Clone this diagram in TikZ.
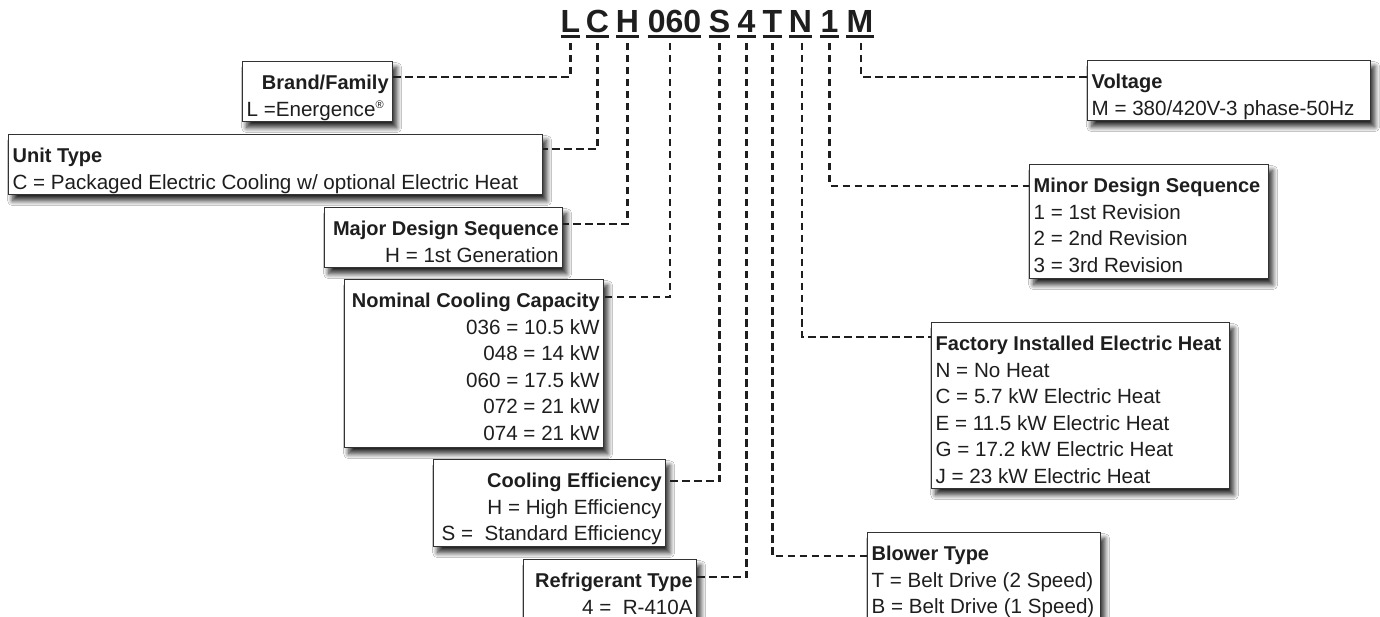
\documentclass[tikz,border=0pt]{standalone}
\usepackage{fontspec}
\setmainfont{Liberation Sans}
\usetikzlibrary{shadows.blur,calc}
\definecolor{ink}{HTML}{1E1E1E}
\definecolor{boxc}{HTML}{333333}
\newcommand\tfont{\fontsize{20}{26.5}\selectfont\bfseries}
\newcommand\bt[3]{\parbox[c][#2pt][t]{\dimexpr#1pt-8pt\relax}{\fontsize{20.6}{26.5}\selectfont\rule{0pt}{28pt}#3}}
\newcommand\rr[1]{\makebox[\linewidth][r]{#1}}
\newcommand\one[1]{\mbox{#1}}
\tikzset{
  box/.style={draw=boxc, line width=1.3pt, fill=white, inner xsep=4pt, inner ysep=0pt,
    anchor=north west, text=ink,
    blur shadow={shadow xshift=4pt, shadow yshift=-6pt, shadow blur radius=5pt, shadow blur steps=12, shadow opacity=85}},
  code/.style={inner sep=0pt, anchor=base, text=ink, font=\fontsize{32}{32}\selectfont\bfseries},
  uline/.style={draw=ink, line width=3pt},
  conn/.style={draw=ink, line width=2.2pt, dash pattern=on 7.5pt off 4.5pt}
}
\begin{document}
\begin{tikzpicture}[x=1pt,y=-1pt]
\useasboundingbox[fill=white] (0,0) rectangle (1380,617);
% code letters
\node[code] (tL) at (570.5,33) {L};
\node[code] (tC) at (597.5,33) {C};
\node[code] (tH) at (627.5,33) {H};
\node[code] (t060) at (674.5,33) {060};
\node[code] (tS) at (719.5,33) {S};
\node[code] (t4) at (746.5,33) {4};
\node[code] (tT) at (772.5,33) {T};
\node[code] (tN) at (800.5,33) {N};
\node[code] (t1) at (829.5,33) {1};
\node[code] (tM) at (860,33) {M};
\foreach \n in {tL,tC,tH,t060,tS,t4,tT,tN,t1,tM}
  \draw[uline] ([yshift=-3.5pt]\n.base west) -- ([yshift=-3.5pt]\n.base east);
% boxes
\node[box] (brand) at (242,61) {\bt{150}{60}{\rr{\tfont Brand/Family}\\\one{L =Energence\textsuperscript{\fontsize{11}{11}\selectfont ®}}}};
\node[box] (unit) at (8,134) {\bt{534}{60}{\raggedright\one{\tfont Unit Type}\\\one{C = Packaged Electric Cooling w/ optional Electric Heat}}};
\node[box] (major) at (324,207) {\bt{238}{60}{\raggedleft\one{\tfont Major Design Sequence}\\\one{H = 1st Generation}}};
\node[box] (nominal) at (344,279) {\bt{259}{168}{\raggedleft\one{\tfont Nominal Cooling Capacity}\\036 = 10.5 kW\\048 = 14 kW\\060 = 17.5 kW\\072 = 21 kW\\074 = 21 kW}};
\node[box] (cooling) at (433,459) {\bt{232}{87}{\raggedleft\one{\tfont Cooling Efficiency}\\\one{H = High Efficiency}\\\one{S = \ Standard Efficiency}}};
\node[box] (refrig) at (523,559) {\bt{173}{60}{\raggedleft\one{\tfont Refrigerant Type}\\\one{4 = \ R-410A}}};
\node[box] (voltage) at (1087,60) {\bt{283}{60}{\raggedright\one{\tfont Voltage}\\\one{M = 380/420V-3 phase-50Hz}}};
\node[box] (minor) at (1029,164) {\bt{239}{114}{\raggedright\one{\tfont Minor Design Sequence}\\\one{1 = 1st Revision}\\\one{2 = 2nd Revision}\\\one{3 = 3rd Revision}}};
\node[box] (factory) at (931,322) {\bt{298}{166}{\raggedright\one{\tfont Factory Installed Electric Heat}\\\one{N = No Heat}\\\one{C = 5.7 kW Electric Heat}\\\one{E = 11.5 kW Electric Heat}\\\one{G = 17.2 kW Electric Heat}\\\one{J = 23 kW Electric Heat}}};
\node[box] (blower) at (867,532) {\bt{233}{87}{\raggedright\one{\tfont Blower Type}\\\one{T = Belt Drive (2 Speed)}\\\one{B = Belt Drive (1 Speed)}}};
% connectors
\draw[conn] ([yshift=-10pt]tL.base) |- ([yshift=-16pt]brand.north east);
\draw[conn] ([yshift=-10pt]tC.base) |- ([yshift=-15pt]unit.north east);
\draw[conn] ([yshift=-10pt]tH.base) |- ([yshift=-17pt]major.north east);
\draw[conn] ([xshift=-4.5pt,yshift=-10pt]t060.base) |- ([yshift=-18pt]nominal.north east);
\draw[conn] ([yshift=-10pt]tS.base) |- ([yshift=-22pt]cooling.north east);
\draw[conn] ([yshift=-10pt]t4.base) |- ([yshift=-18pt]refrig.north east);
\draw[conn] ([yshift=-10pt]tT.base) |- ([yshift=-24pt]blower.north west);
\draw[conn] ([xshift=1.5pt,yshift=-10pt]tN.base) |- ([yshift=-15pt]factory.north west);
\draw[conn] ([yshift=-10pt]t1.base) |- ([yshift=-22pt]minor.north west);
\draw[conn] ([xshift=1pt,yshift=-10pt]tM.base) |- ([yshift=-17pt]voltage.north west);
\end{tikzpicture}
\end{document}
